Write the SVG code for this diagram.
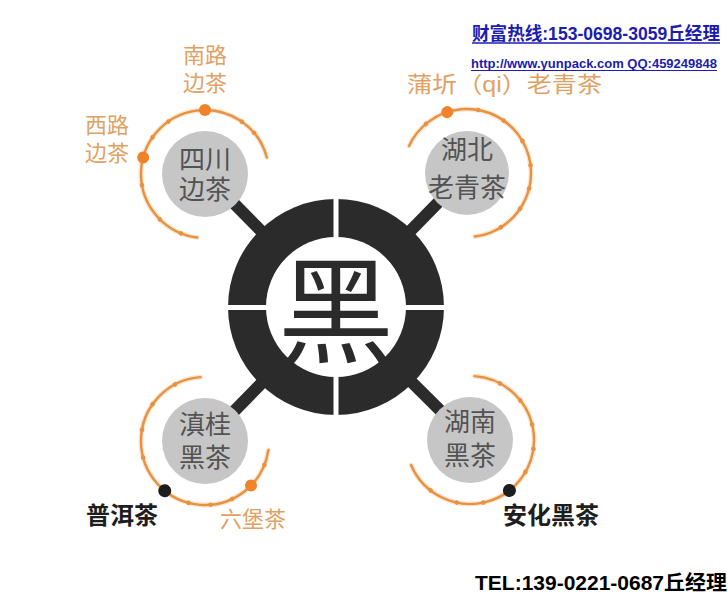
<svg xmlns="http://www.w3.org/2000/svg" width="728" height="594" viewBox="0 0 728 594">
<style>
.cjk{font-family:"Liberation Sans","Noto Sans CJK SC",sans-serif}
.or{fill:#dfa264;font-size:22px}
.gt{fill:#535353;font-size:26px;text-anchor:middle}
.bk{fill:#1e1e1e;font-size:24px;font-weight:bold;text-anchor:middle}
.halo{fill:none;stroke:#f6d2ad;stroke-width:5;stroke-linecap:round;opacity:0.55}
.arc{fill:none;stroke:#e9913e;stroke-width:2.4;stroke-linecap:round}
.sd{fill:#e9913e}
.bd{fill:#f0822a}
.gc{fill:#c6c6c6}
.bar{stroke:#2b2b2b;stroke-width:12}
.hdr{fill:#1c1cb0;font-weight:bold}
</style>
<rect width="728" height="594" fill="#ffffff"/>

<g id="connectors">
<line class="bar" x1="336" y1="307" x2="205" y2="174"/>
<line class="bar" x1="336" y1="307" x2="467" y2="173"/>
<line class="bar" x1="336" y1="307" x2="205" y2="441"/>
<line class="bar" x1="336" y1="307" x2="470" y2="440"/>
</g>

<g id="center">
<circle cx="336" cy="307" r="108" fill="#2b2b2b"/>
<circle cx="336" cy="307" r="70" fill="#ffffff"/>
<rect x="333.5" y="195" width="5" height="224" fill="#ffffff"/>
<rect x="224" y="305" width="224" height="5" fill="#ffffff"/>
<text x="336" y="303" font-size="116" fill="#2b2b2b" text-anchor="middle" dominant-baseline="central" font-family="'Noto Sans CJK SC',sans-serif">黑</text>
</g>

<g id="sichuan">
<g transform="translate(205,174)">
<path class="halo" d="M61.82,-16.56 A64,64 0 1 0 -7.80,63.52"/>
<path class="arc" d="M61.82,-16.56 A64,64 0 1 0 -7.80,63.52"/>
<circle class="sd" r="2.3" cx="64" transform="rotate(-40)"/>
<circle class="sd" r="2.3" cx="64" transform="rotate(-55)"/>
<circle class="sd" r="2.3" cx="64" transform="rotate(-125)"/>
<circle class="sd" r="2.3" cx="64" transform="rotate(-145)"/>
<circle class="sd" r="2.3" cx="64" transform="rotate(170)"/>
<circle class="sd" r="2.3" cx="64" transform="rotate(135)"/>
<circle class="sd" r="2.3" cx="64" transform="rotate(112)"/>
<circle class="bd" r="6" cx="64" transform="rotate(-90)"/>
<circle class="bd" r="6" cx="64" transform="rotate(-165)"/>
<circle class="gc" r="43" cx="0" cy="0"/>
</g>
<text class="cjk gt" x="205" y="169">四川<tspan x="205" dy="30">边茶</tspan></text>
<text class="cjk or" x="205" y="63" text-anchor="middle">南路<tspan x="205" dy="28">边茶</tspan></text>
<text class="cjk or" x="107" y="133" text-anchor="middle">西路<tspan x="107" dy="28">边茶</tspan></text>
</g>

<g id="hubei">
<g transform="translate(467,173)">
<path class="halo" d="M-58.00,-27.05 A64,64 0 1 1 7.80,63.52"/>
<path class="arc" d="M-58.00,-27.05 A64,64 0 1 1 7.80,63.52"/>
<circle class="sd" r="2.3" cx="64" transform="rotate(-130)"/>
<circle class="sd" r="2.3" cx="64" transform="rotate(-80)"/>
<circle class="sd" r="2.3" cx="64" transform="rotate(-55)"/>
<circle class="sd" r="2.3" cx="64" transform="rotate(-30)"/>
<circle class="sd" r="2.3" cx="64" transform="rotate(-7)"/>
<circle class="sd" r="2.3" cx="64" transform="rotate(14)"/>
<circle class="sd" r="2.3" cx="64" transform="rotate(34)"/>
<circle class="sd" r="2.3" cx="64" transform="rotate(58)"/>
<circle class="bd" r="6" cx="64" transform="rotate(-108)"/>
<circle class="gc" r="42" cx="0" cy="0"/>
</g>
<text class="cjk gt" x="467" y="159" font-size="27">湖北<tspan x="467" dy="38">老青茶</tspan></text>
<text class="cjk or" x="407" y="92" textLength="195" lengthAdjust="spacingAndGlyphs">蒲圻（qi）老青茶</text>
</g>

<g id="diangui">
<g transform="translate(205,441)">
<path class="halo" d="M-4.47,-63.85 A64,64 0 1 0 63.38,8.91"/>
<path class="arc" d="M-4.47,-63.85 A64,64 0 1 0 63.38,8.91"/>
<circle class="sd" r="2.3" cx="64" transform="rotate(-118)"/>
<circle class="sd" r="2.3" cx="64" transform="rotate(-145)"/>
<circle class="sd" r="2.3" cx="64" transform="rotate(-170)"/>
<circle class="sd" r="2.3" cx="64" transform="rotate(165)"/>
<circle class="sd" r="2.3" cx="64" transform="rotate(105)"/>
<circle class="sd" r="2.3" cx="64" transform="rotate(85)"/>
<circle class="sd" r="2.3" cx="64" transform="rotate(65)"/>
<circle class="sd" r="2.3" cx="64" transform="rotate(22)"/>
<circle class="bd" r="6" cx="64" transform="rotate(44)"/>
<circle r="6.5" cx="64" fill="#1e1e1e" transform="rotate(129)"/>
<circle class="gc" r="43" cx="0" cy="0"/>
</g>
<text class="cjk gt" x="205" y="434">滇桂<tspan x="205" dy="33">黑茶</tspan></text>
<text class="cjk bk" x="122" y="524">普洱茶</text>
<text class="cjk or" x="253" y="527" font-size="24" text-anchor="middle">六堡茶</text>
</g>

<g id="hunan">
<g transform="translate(470,440)">
<path class="halo" d="M4.47,-63.85 A64,64 0 1 1 -58.91,24.99"/>
<path class="arc" d="M4.47,-63.85 A64,64 0 1 1 -58.91,24.99"/>
<circle class="sd" r="2.3" cx="64" transform="rotate(-62)"/>
<circle class="sd" r="2.3" cx="64" transform="rotate(-38)"/>
<circle class="sd" r="2.3" cx="64" transform="rotate(-14)"/>
<circle class="sd" r="2.3" cx="64" transform="rotate(8)"/>
<circle class="sd" r="2.3" cx="64" transform="rotate(30)"/>
<circle class="sd" r="2.3" cx="64" transform="rotate(78)"/>
<circle class="sd" r="2.3" cx="64" transform="rotate(102)"/>
<circle class="sd" r="2.3" cx="64" transform="rotate(128)"/>
<circle r="6.5" cx="64" fill="#1e1e1e" transform="rotate(52)"/>
<circle class="gc" r="43" cx="0" cy="0"/>
</g>
<text class="cjk gt" x="470" y="431">湖南<tspan x="470" dy="34">黑茶</tspan></text>
<text class="cjk bk" x="551" y="524">安化黑茶</text>
</g>

<g id="header">
<text class="hdr" x="472" y="40" font-size="18" font-family="'Liberation Sans','Noto Sans CJK SC',sans-serif" textLength="248" lengthAdjust="spacingAndGlyphs">财富热线:153-0698-3059丘经理</text>
<line x1="472" y1="43" x2="720" y2="43" stroke="#1c1cb0" stroke-width="1.3"/>
<text class="hdr" x="471" y="68" font-size="12.5" font-family="'Liberation Sans',sans-serif" textLength="246" lengthAdjust="spacingAndGlyphs">http://www.yunpack.com QQ:459249848</text>
<line x1="471" y1="70.5" x2="717" y2="70.5" stroke="#1c1cb0" stroke-width="1"/>
<text x="475" y="590" font-size="20" font-weight="bold" fill="#000000" font-family="'Liberation Sans','Noto Sans CJK SC',sans-serif" textLength="252" lengthAdjust="spacingAndGlyphs">TEL:139-0221-0687丘经理</text>
</g>
</svg>
